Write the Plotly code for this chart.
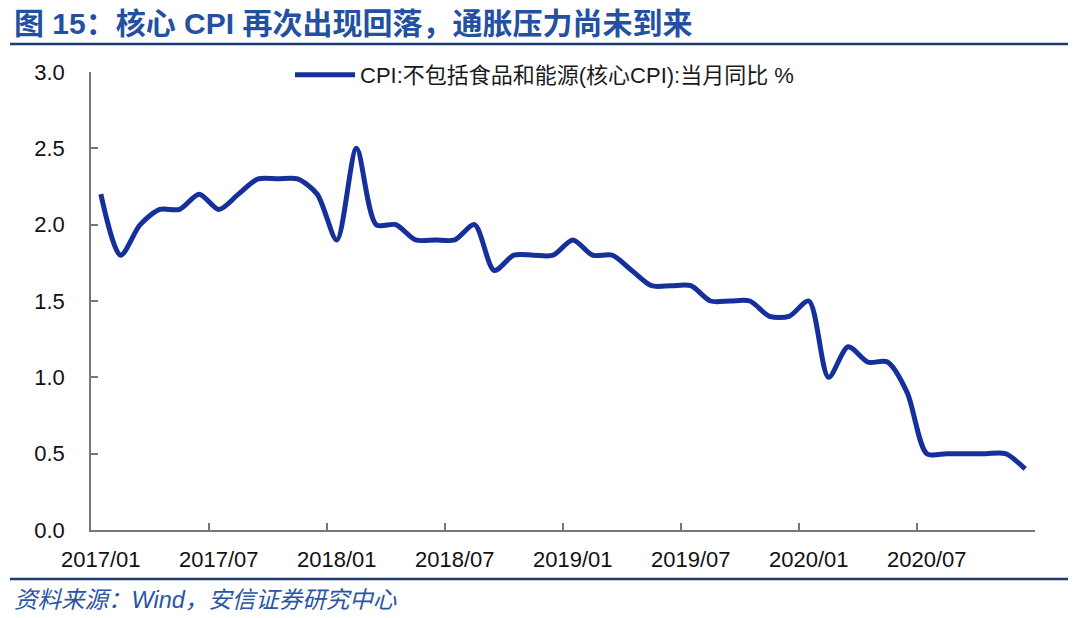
import plotly.graph_objects as go

months = [f"{y}/{m:02d}" for y in range(2017, 2021) for m in range(1, 13)]
core_cpi = [2.2, 1.8, 2.0, 2.1, 2.1, 2.2, 2.1, 2.2, 2.3, 2.3, 2.3, 2.2,
            1.9, 2.5, 2.0, 2.0, 1.9, 1.9, 1.9, 2.0, 1.7, 1.8, 1.8, 1.8,
            1.9, 1.8, 1.8, 1.7, 1.6, 1.6, 1.6, 1.5, 1.5, 1.5, 1.4, 1.4,
            1.5, 1.0, 1.2, 1.1, 1.1, 0.9, 0.5, 0.5, 0.5, 0.5, 0.5, 0.4]
tick_labels = ["2017/01", "2017/07", "2018/01", "2018/07", "2019/01", "2019/07", "2020/01", "2020/07"]
y_ticks = [0.0, 0.5, 1.0, 1.5, 2.0, 2.5, 3.0]

# body margin removed via post_script, so figure fills the 1080x618 page
W, H = 1080, 618
PL, PR, PT, PB = 91, 1035, 72, 530
L, R, T, B = PL, W - PR, PT, H - PB
pw, ph = PR - PL, PB - PT

def px(xp):
    return (xp - PL) / pw

def py(yp):
    return (PB - yp) / ph

idx = list(range(len(months)))
label_pos = [months.index(t) for t in tick_labels]
boundaries = [i - 0.5 for i in range(0, len(months) + 1, 6)]

font_main = "Liberation Sans, Arial, Noto Sans CJK SC, sans-serif"

fig = go.Figure()
fig.add_trace(go.Scatter(
    x=idx, y=core_cpi, mode="lines",
    name="CPI:不包括食品和能源(核心CPI):当月同比 %",
    line=dict(color="#15309A", width=5, shape="spline", smoothing=0.8),
))
fig.add_trace(go.Scatter(x=[boundaries[0], boundaries[-1]], y=[None, None], xaxis="x2",
                         showlegend=False, hoverinfo="skip"))

fig.update_layout(
    width=W, height=H,
    margin=dict(l=L, r=R, t=T, b=B, autoexpand=False),
    paper_bgcolor="white", plot_bgcolor="white",
    font=dict(family=font_main, size=22, color="#111111"),
    showlegend=True,
    legend=dict(x=px(290), y=py(75), xanchor="left", yanchor="middle",
                bgcolor="rgba(0,0,0,0)", font=dict(size=22, color="#1a1a1a"),
                itemwidth=60),
    xaxis=dict(range=[-0.5, len(months) - 0.5], tickvals=label_pos, ticktext=tick_labels,
               ticks="", showgrid=False, zeroline=False, showline=True, automargin=False,
               linecolor="#777777", linewidth=1.5, tickfont=dict(size=22, color="#111111"),
               ticklabelstandoff=9),
    xaxis2=dict(range=[-0.5, len(months) - 0.5], overlaying="x", side="bottom",
                tickvals=boundaries, showticklabels=False, ticks="inside", ticklen=7,
                tickwidth=1.5, tickcolor="#777777", showgrid=False, zeroline=False,
                showline=False, anchor="y", automargin=False),
    yaxis=dict(range=[0, 3.0], tickvals=y_ticks, ticktext=[f"{v:.1f}" for v in y_ticks],
               ticks="inside", ticklen=7, tickwidth=1.5, tickcolor="#777777", automargin=False,
               showgrid=False, zeroline=False, showline=True, linecolor="#777777",
               linewidth=1.5, tickfont=dict(size=22, color="#111111"), ticklabelstandoff=20),
)

fig.add_annotation(x=px(12), y=py(23), xref="paper", yref="paper", xanchor="left", yanchor="middle",
                   text="<b>图 15：核心 CPI 再次出现回落，通胀压力尚未到来</b>", showarrow=False,
                   font=dict(size=30, color="#2350A0", family="Liberation Sans, Noto Sans CJK SC"))
fig.add_annotation(x=px(12), y=py(600), xref="paper", yref="paper", xanchor="left", yanchor="middle",
                   text="<i>资料来源：Wind，安信证券研究中心</i>", showarrow=False,
                   font=dict(size=23.5, color="#2A55A2", family="Liberation Sans, Noto Sans CJK SC"))

for yy in (44, 579):
    fig.add_shape(type="line", xref="paper", yref="paper", x0=px(10), x1=px(1068), y0=py(yy), y1=py(yy),
                  line=dict(color="#1F3B73", width=2.5))

fig.write_html("out.html", config={"displayModeBar": False},
               post_script="document.body.style.margin='0px';document.body.style.overflow='hidden';")
